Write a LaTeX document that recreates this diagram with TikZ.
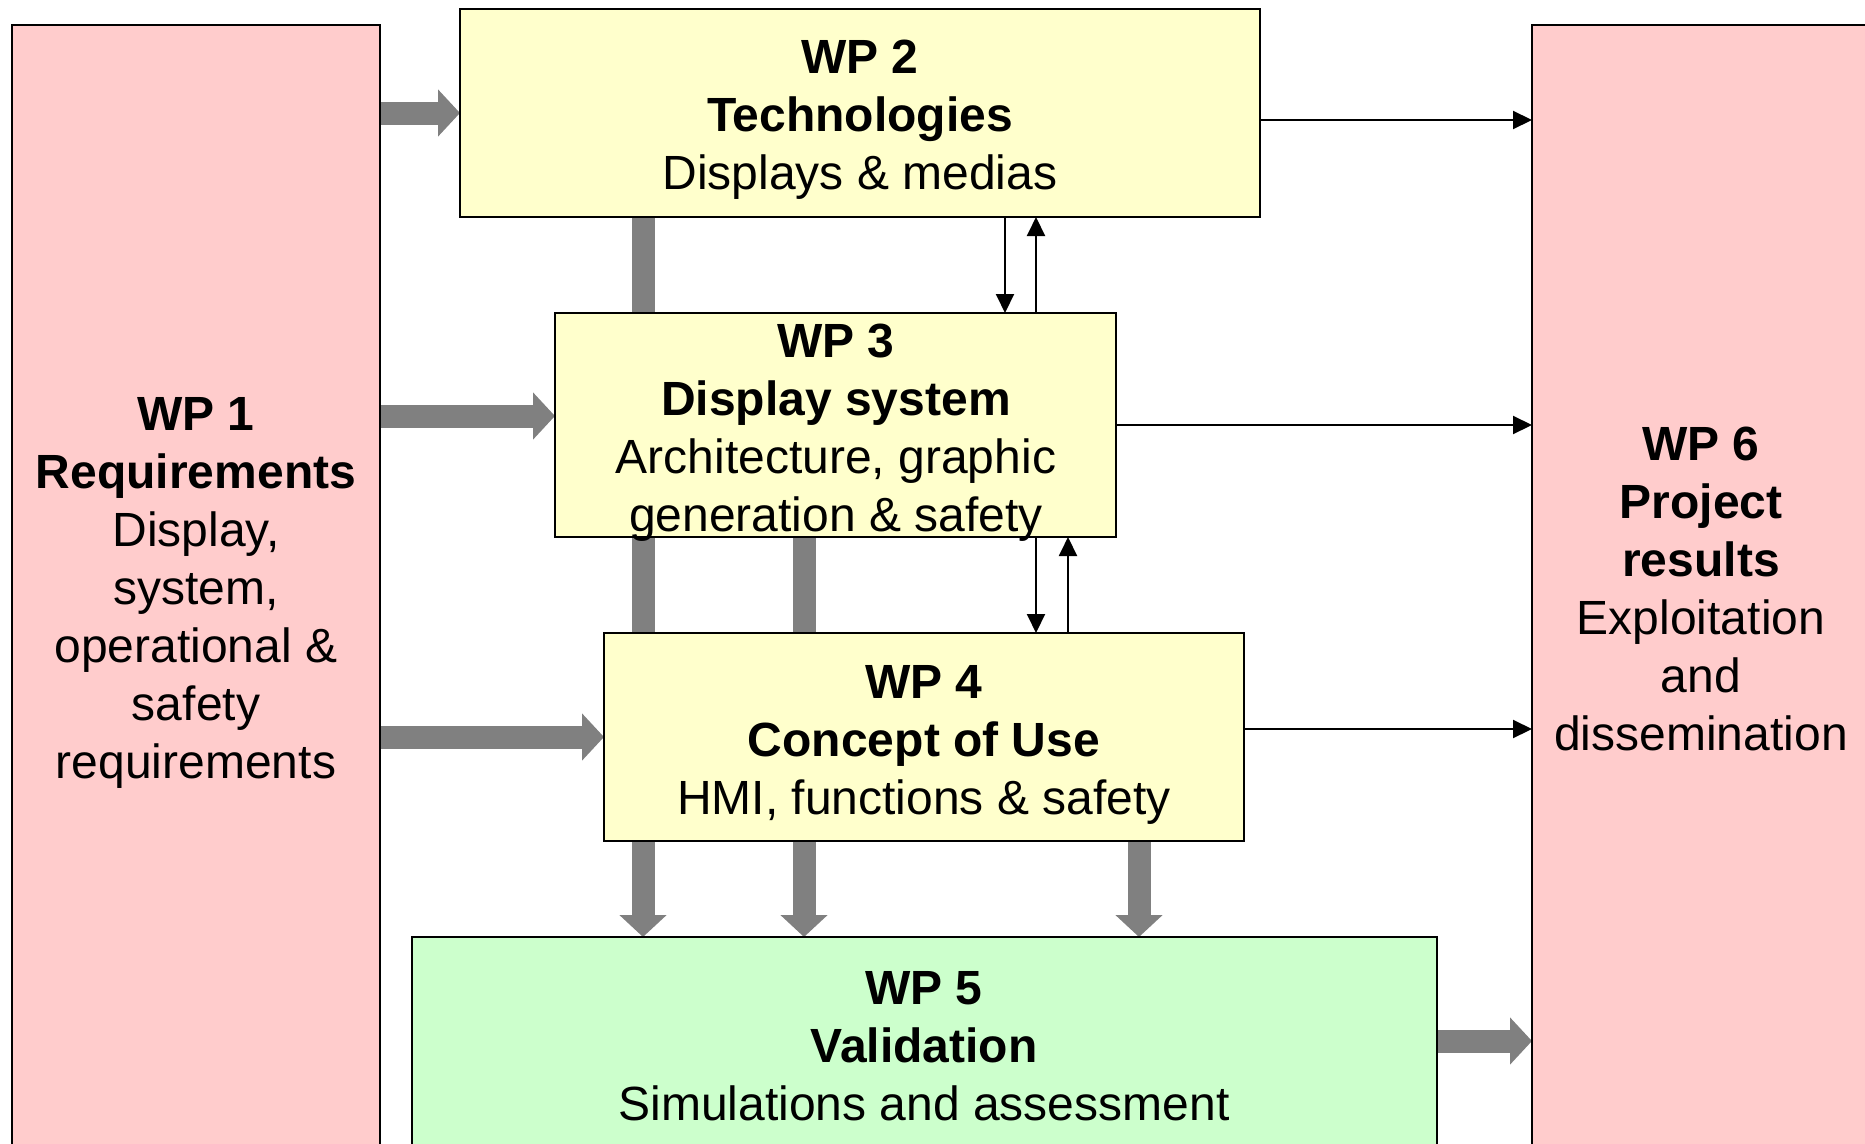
\documentclass[tikz,border=0pt]{standalone}
\usepackage{fontspec}
\setmainfont{Liberation Sans}
\usetikzlibrary{arrows.meta,calc,backgrounds}
\definecolor{pinkfill}{HTML}{FFCCCC}
\definecolor{yellowfill}{HTML}{FFFFCC}
\definecolor{greenfill}{HTML}{CCFFCC}
\definecolor{arrowgray}{HTML}{808080}
\begin{document}
\begin{tikzpicture}[x=1pt,y=-1pt,
  box/.style={draw=black, line width=2pt, anchor=north west, inner sep=0pt, outer sep=0pt},
  lbl/.style={align=center, font=\fontsize{48}{58}\selectfont, inner sep=0pt},
  bigarrow/.style={-{Triangle[width=46pt,length=22pt]}, line width=23pt, draw=arrowgray},
  link/.style={-{Triangle[width=18pt,length=19pt]}, line width=2pt, draw=black}]
\useasboundingbox (0,0) rectangle (1865,1143);
\clip (0,0) rectangle (1865,1143);
% boxes
\node[box, fill=pinkfill, minimum width=368pt, minimum height=1200pt] (wp1) at (12,25) {};
\node[box, fill=pinkfill, minimum width=400pt, minimum height=1200pt] (wp6) at (1532,25) {};
\node[box, fill=yellowfill, minimum width=800pt, minimum height=208pt] (wp2) at (460,9) {};
\node[box, fill=yellowfill, minimum width=561pt, minimum height=224pt] (wp3) at (555,313) {};
\node[box, fill=yellowfill, minimum width=640pt, minimum height=208pt] (wp4) at (604,633) {};
\node[box, fill=greenfill, minimum width=1025pt, minimum height=300pt] (wp5) at (412,937) {};
% labels
\node[lbl] (t1) at (196,593) {\textbf{WP 1}\\\textbf{Requirements}\\Display,\\system,\\operational \&\\safety\\requirements};
\node[lbl] (t2) at (860,120) {\textbf{WP 2}\\\textbf{Technologies}\\Displays \& medias};
\node[lbl] (t3) at (836,433) {\textbf{WP 3}\\\textbf{Display system}\\Architecture, graphic\\generation \& safety};
\node[lbl] (t4) at (924,745) {\textbf{WP 4}\\\textbf{Concept of Use}\\HMI, functions \& safety};
\node[lbl] (t5) at (924,1046) {\textbf{WP 5}\\\textbf{Validation}\\Simulations and assessment};
\node[lbl] (t6) at (1701,589) {\textbf{WP 6}\\\textbf{Project}\\\textbf{results}\\Exploitation\\and\\dissemination};
% helper coordinates
\coordinate (c1) at ($(wp2.south west)+(183,0)$);
\coordinate (c2) at ($(wp3.south west)+(249,0)$);
\coordinate (c3) at ($(wp4.south west)+(535,0)$);
\coordinate (d1) at ($(wp2.south west)+(545,0)$);
\coordinate (u1) at ($(wp2.south west)+(576,0)$);
\coordinate (d2) at ($(wp3.south west)+(481,0)$);
\coordinate (u2) at ($(wp3.south west)+(513,0)$);
\coordinate (h3) at ($(wp3.west)+(0,-9)$);
\coordinate (h5) at ($(wp5.north east)+(0,104)$);
% gray arrows behind boxes
\begin{scope}[on background layer]
\draw[bigarrow] (wp1.east |- wp2.west) -- (wp2.west);
\draw[bigarrow] (wp1.east |- h3) -- (h3);
\draw[bigarrow] (wp1.east |- wp4.west) -- (wp4.west);
\draw[bigarrow] (h5) -- (wp6.west |- h5);
\draw[bigarrow] (c1) -- (c1 |- wp5.north);
\draw[bigarrow] (c2) -- (c2 |- wp5.north);
\draw[bigarrow] (c3) -- (c3 |- wp5.north);
\end{scope}
% thin arrows
\draw[link] (d1) -- (d1 |- wp3.north);
\draw[link] (u1 |- wp3.north) -- (u1);
\draw[link] (d2) -- (d2 |- wp4.north);
\draw[link] (u2 |- wp4.north) -- (u2);
\draw[link] ($(wp2.east)+(0,7)$) -- ($(wp2.east -| wp6.west)+(0,7)$);
\draw[link] (wp3.east) -- (wp3.east -| wp6.west);
\draw[link] ($(wp4.east)+(0,-8)$) -- ($(wp4.east -| wp6.west)+(0,-8)$);
\end{tikzpicture}
\end{document}
